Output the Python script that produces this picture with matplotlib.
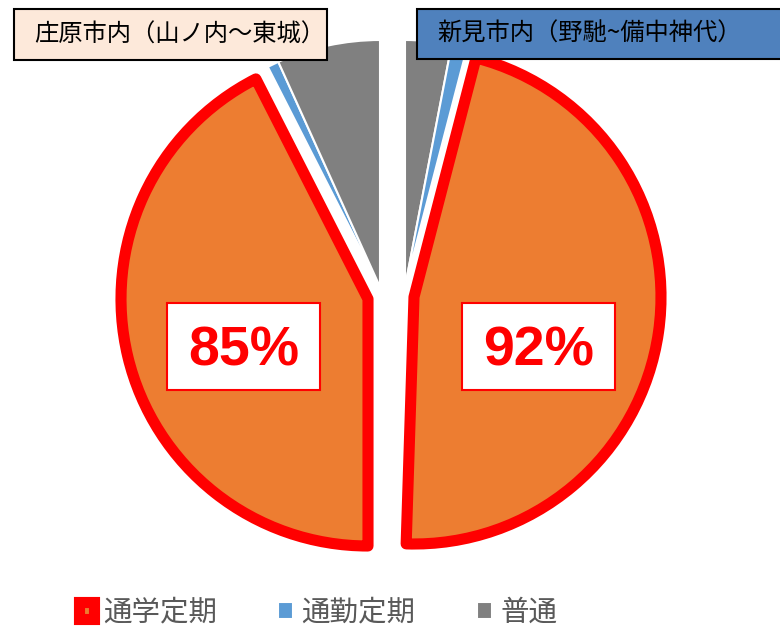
import matplotlib.pyplot as plt
from matplotlib.patches import Rectangle

plt.rcParams['font.family'] = ['Noto Sans CJK JP', 'DejaVu Sans']

# データ
categories = ['通学定期', '通勤定期', '普通']
shobara_values = [85, 1.5, 13.5]   # 庄原市内
niimi_values = [92, 2, 6]          # 新見市内
colors = ['#ED7D31', '#5B9BD5', '#808080']
titles = ['庄原市内（山ノ内～東城）', '新見市内（野馳~備中神代）']
pct_labels = ['85%', '92%']

W, H = 780, 628


def fy(y):
    # 画像のピクセル座標(上から) -> データ座標(下から)
    return H - y


fig = plt.figure(figsize=(W / 100, H / 100), dpi=100)
ax = fig.add_axes([0, 0, 1, 1])

wp = dict(edgecolor='white', linewidth=1.5)

# 左: 見えない半分 -> 通学 -> 通勤 -> 普通 (上から時計回り)
lw, _ = ax.pie([100] + shobara_values, colors=['none'] + colors,
               startangle=90, counterclock=False,
               center=(380, fy(287)), radius=247, wedgeprops=wp)
lw[0].set_visible(False)
lw[1].set_center((368, fy(299)))

# 右: 普通 -> 通勤 -> 通学 -> 見えない半分
rw, _ = ax.pie(niimi_values[::-1] + [98], colors=colors[::-1] + ['none'],
               startangle=90, counterclock=False,
               center=(405, fy(287)), radius=247, wedgeprops=wp)
rw[3].set_visible(False)
rw[2].set_center((414, fy(297)))

for w in (lw[1], rw[2]):
    w.set_edgecolor('#FF0000')
    w.set_linewidth(8)
    w.set_joinstyle('round')
    w.set_zorder(3)

# タイトルの枠
ax.add_patch(Rectangle((14, fy(60)), 313, 51, facecolor='#FDE9DA',
                       edgecolor='black', linewidth=1.5, zorder=5))
ax.text(34, fy(35), titles[0], fontsize=17.5, ha='left', va='center', zorder=6)
ax.add_patch(Rectangle((417, fy(59)), 380, 50, facecolor='#4F81BD',
                       edgecolor='black', linewidth=1.5, zorder=5))
ax.text(437, fy(34), titles[1], fontsize=17.5, ha='left', va='center', zorder=6)

# 割合のラベル
for (x0, x1), txt in zip([(167, 320), (462, 615)], pct_labels):
    ax.add_patch(Rectangle((x0, fy(390)), x1 - x0, 87, facecolor='white',
                           edgecolor='#FF0000', linewidth=1.5, zorder=5))
    ax.text((x0 + x1) / 2, fy(352), txt, fontsize=40, fontweight='bold',
            family=['Liberation Sans', 'DejaVu Sans'], color='#FF0000',
            ha='center', va='center', zorder=6)

ax.set_xlim(0, W)
ax.set_ylim(0, H)
ax.set_aspect('equal')
ax.axis('off')

# 凡例
fig.legend(handles=[lw[1], lw[2], lw[3]], labels=categories, loc='center',
           bbox_to_anchor=(0.408, 0.025), ncol=3, frameon=False, fontsize=20.5,
           labelcolor='#595959', handlelength=0.53, handleheight=0.53,
           handletextpad=0.3, columnspacing=2.15)

fig.savefig('out.png', dpi=100)
